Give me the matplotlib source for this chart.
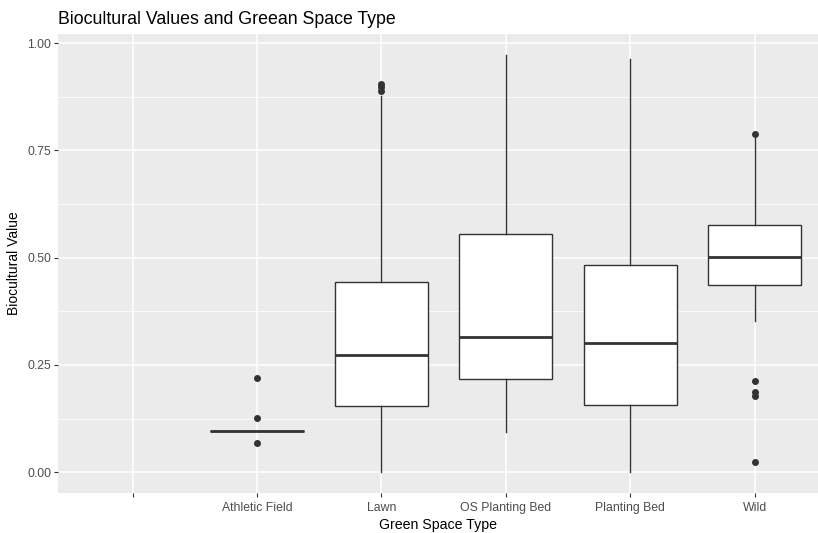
import matplotlib
matplotlib.use("Agg")
import matplotlib.pyplot as plt

plt.rcParams['font.family'] = ['Liberation Sans', 'DejaVu Sans']

# categories (first one is an empty level with no data)
categories = ["", "Athletic Field", "Lawn", "OS Planting Bed", "Planting Bed", "Wild"]

# box stats
box_cats = ["Athletic Field", "Lawn", "OS Planting Bed", "Planting Bed", "Wild"]
whislo = [0.095, 0.000, 0.094, 0.000, 0.352]
q1 = [0.095, 0.154, 0.218, 0.156, 0.435]
med = [0.095, 0.274, 0.316, 0.302, 0.502]
q3 = [0.095, 0.444, 0.556, 0.482, 0.577]
whishi = [0.095, 0.876, 0.972, 0.963, 0.780]
fliers = [
    [0.219, 0.126, 0.067],
    [0.888, 0.897, 0.905],
    [],
    [],
    [0.788, 0.212, 0.186, 0.177, 0.023],
]

stats = []
for i in range(len(box_cats)):
    stats.append(dict(label=box_cats[i], whislo=whislo[i], q1=q1[i], med=med[i],
                      q3=q3[i], whishi=whishi[i], fliers=fliers[i]))

positions = [categories.index(c) + 1 for c in box_cats]

fig = plt.figure(figsize=(8.18, 5.33), dpi=100)
ax = fig.add_axes([58 / 818, 40 / 533, 760 / 818, 459 / 533])
ax.set_facecolor("#EBEBEB")

ax.bxp(stats, positions=positions, widths=0.75, patch_artist=True, showcaps=False,
       boxprops=dict(facecolor="white", edgecolor="#333333", linewidth=1.0),
       medianprops=dict(color="#333333", linewidth=2.0),
       whiskerprops=dict(color="#333333", linewidth=1.0),
       flierprops=dict(marker="o", markersize=4, markerfacecolor="#333333",
                       markeredgecolor="#333333"),
       zorder=3)

ax.set_xlim(0.4, 6.51)
ax.set_ylim(-0.0486, 1.021)
ax.set_xticks(range(1, len(categories) + 1))
ax.set_xticklabels(categories)
ax.set_yticks([0, 0.25, 0.5, 0.75, 1.0])
ax.set_yticklabels(["0.00", "0.25", "0.50", "0.75", "1.00"])
ax.set_yticks([0.125, 0.375, 0.625, 0.875], minor=True)

ax.grid(True, which="major", color="white", linewidth=1.1, zorder=0)
ax.grid(True, which="minor", axis="y", color="white", linewidth=0.55, zorder=0)
ax.set_axisbelow(True)
for s in ax.spines.values():
    s.set_visible(False)
ax.tick_params(axis="both", which="major", colors="#333333", length=3, width=0.8,
               labelcolor="#4D4D4D", labelsize=8.8)
ax.tick_params(axis="y", which="major", pad=2)
ax.tick_params(axis="both", which="minor", length=0)

ax.set_xlabel("Green Space Type", fontsize=10.2, color="black", labelpad=3)
ax.set_ylabel("Biocultural Value", fontsize=10, color="black", labelpad=4)
ax.set_title("Biocultural Values and Greean Space Type", fontsize=12.8, loc="left",
             color="black", pad=7)

fig.savefig("out.png", dpi=100)
